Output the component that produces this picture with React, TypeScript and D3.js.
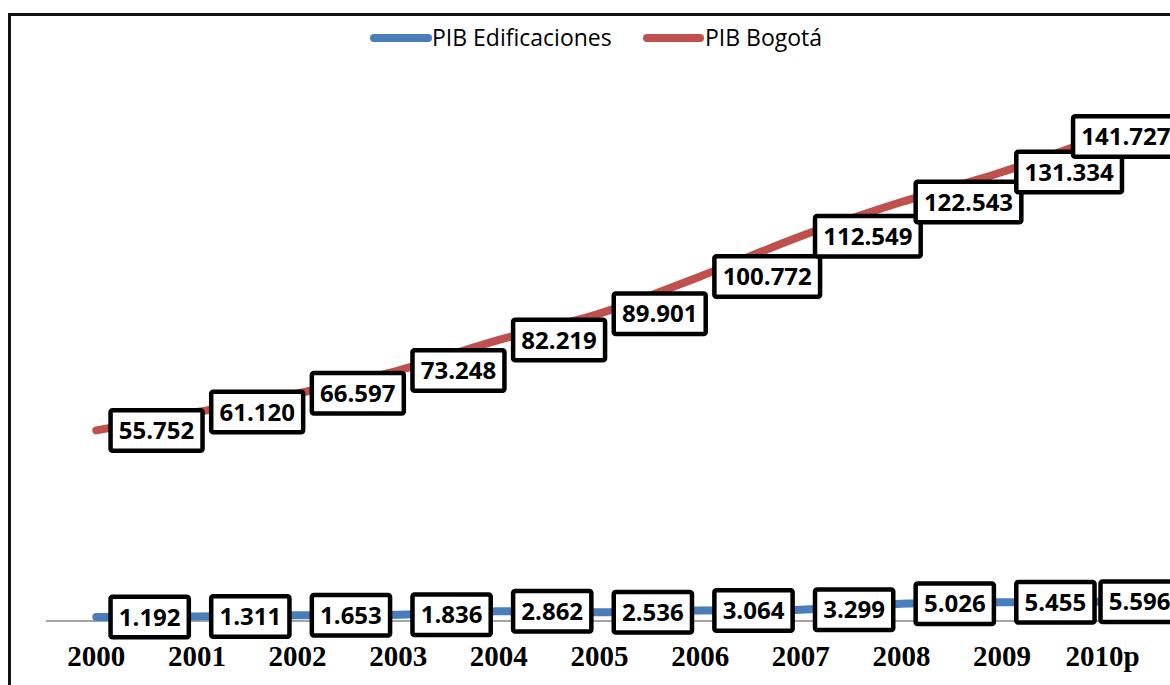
import React from "react";
import * as d3 from "d3";

const years = ["2000", "2001", "2002", "2003", "2004", "2005", "2006", "2007", "2008", "2009", "2010p"];
const pibEdificaciones = [1.192, 1.311, 1.653, 1.836, 2.862, 2.536, 3.064, 3.299, 5.026, 5.455, 5.596];
const pibBogota = [55.752, 61.12, 66.597, 73.248, 82.219, 89.901, 100.772, 112.549, 122.543, 131.334, 141.727];

const seriesNames = ["PIB Edificaciones", "PIB Bogotá"];
const seriesColors = ["#4A7EBB", "#C0504D"];

const W = 1170;
const H = 685;
const LABEL_FONT = "bold 24px 'Open Sans'";
const CHART_RIGHT = 1181;

const fmt = (v: number) => v.toFixed(3);

let ctx: CanvasRenderingContext2D | null = null;
function textWidth(s: string): number {
  if (!ctx) ctx = document.createElement("canvas").getContext("2d");
  if (!ctx) return s.length * 12.5;
  ctx.font = LABEL_FONT;
  return ctx.measureText(s).width;
}

export default function App() {
  const x = d3.scaleBand<string>().domain(years).range([46, 1153]).paddingInner(0).paddingOuter(0);
  const cx = (yr: string) => (x(yr) as number) + x.bandwidth() / 2;
  const y = d3.scaleLinear().domain([0, 160]).range([621, 74]);

  const line = d3
    .line<number>()
    .x((_, i) => cx(years[i]))
    .y((v) => y(v))
    .curve(d3.curveCardinal.tension(0));

  const series = [pibEdificaciones, pibBogota];

  const renderLabels = (vals: number[], key: string) =>
    vals.map((v, i) => {
      const txt = fmt(v);
      const tw = textWidth(txt);
      const bw = Math.max(tw + 21, 82);
      const bh = 45;
      let left = cx(years[i]) + 12;
      if (left + bw > CHART_RIGHT) left = CHART_RIGHT - bw;
      const top = y(v) - bh / 2;
      return (
        <g key={`${key}-${i}`}>
          <rect
            x={left + 2.25}
            y={top + 2.25}
            width={bw - 4.5}
            height={bh - 4.5}
            rx={2}
            fill="#fff"
            stroke="#000"
            strokeWidth={4.5}
          />
          <text
            x={left + bw / 2}
            y={y(v) + 8.6}
            textAnchor="middle"
            style={{ font: LABEL_FONT }}
            fill="#000"
          >
            {txt}
          </text>
        </g>
      );
    });

  return (
    <div>
      <style>{`body{margin:0}`}</style>
      <svg width={W} height={H} style={{ display: "block" }}>
        <rect x={0} y={0} width={W} height={H} fill="#fff" />
        {/* chart frame */}
        <rect x={9.5} y={14.5} width={1180} height={720} fill="#fff" stroke="#111" strokeWidth={3} />

        {/* legend */}
        <g>
          <line x1={374} x2={428} y1={38} y2={38} stroke={seriesColors[0]} strokeWidth={8} strokeLinecap="round" />
          <text x={432} y={46} style={{ font: "23px 'Open Sans'" }} fill="#000">
            {seriesNames[0]}
          </text>
          <line x1={647} x2={700} y1={38} y2={38} stroke={seriesColors[1]} strokeWidth={8} strokeLinecap="round" />
          <text x={705} y={46} style={{ font: "23px 'Open Sans'" }} fill="#000">
            {seriesNames[1]}
          </text>
        </g>

        {/* category axis */}
        <line x1={46} x2={1153} y1={y(0)} y2={y(0)} stroke="#868686" strokeWidth={1.5} />
        {years.map((yr) => (
          <text
            key={yr}
            x={cx(yr)}
            y={666}
            textAnchor="middle"
            style={{ font: "bold 29px 'Liberation Serif'" }}
            fill="#000"
          >
            {yr}
          </text>
        ))}

        {/* series lines */}
        {series.map((vals, si) => (
          <path
            key={seriesNames[si]}
            d={line(vals) || ""}
            fill="none"
            stroke={seriesColors[si]}
            strokeWidth={8}
            strokeLinecap="round"
            strokeLinejoin="round"
          />
        ))}

        {/* data labels */}
        {renderLabels(pibEdificaciones, "e")}
        {renderLabels(pibBogota, "b")}
      </svg>
    </div>
  );
}
